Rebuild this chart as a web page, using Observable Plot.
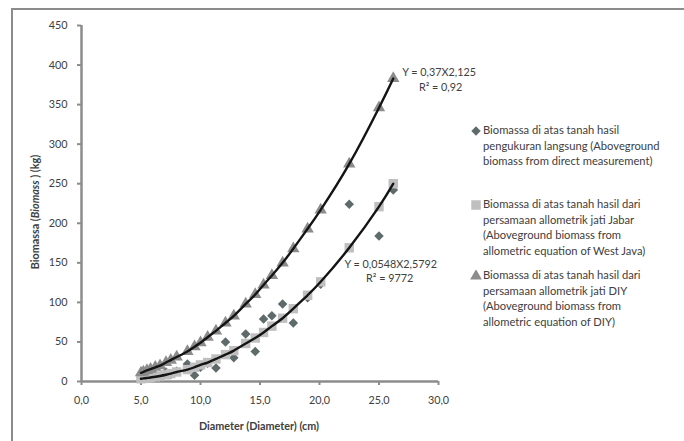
<!DOCTYPE html>
<html>
<head>
<meta charset="utf-8">
<script src="https://cdn.jsdelivr.net/npm/d3@7"></script>
<script src="https://cdn.jsdelivr.net/npm/@observablehq/plot@0.6"></script>
<style>
  html, body { margin: 0; padding: 0; background: #fff; }
  #wrap { position: relative; width: 684px; height: 441px; overflow: hidden; font-family: Lato, "Open Sans", sans-serif; }
  #border { position: absolute; left: 11px; top: 8px; right: -4px; bottom: -4px; border-left: 2px solid #8c8c8c; border-top: 2px solid #8c8c8c; }
  #legend { position: absolute; left: 470px; top: 0; font-size: 11.2px; line-height: 15.6px; color: #404040; }
  .item { position: absolute; left: 0; white-space: nowrap; }
  .item svg { position: absolute; left: 0; top: 3px; }
  .item div { position: absolute; left: 13px; top: 0; }
</style>
</head>
<body>
<div id="wrap">
  <div id="border"></div>
  <div id="chart"></div>
  <div id="legend"></div>
</div>
<script>
// ---- data ----
const diameters = [5.0, 5.2, 5.5, 5.8, 6.2, 6.6, 7.1, 7.5, 8.0, 8.9, 9.5, 10.0, 10.6, 11.3, 12.1, 12.8, 13.8, 14.6, 15.3, 16.0, 16.9, 17.8, 19.0, 20.1, 22.5, 25.0, 26.2];
const measured   = [5, 4, 8, 6, 9, 7, 12, 9, 13, 22, 8, 18, 23, 17, 50, 30, 60, 38, 79, 83, 98, 74, 106, 123, 224, 184, 242];
const jabar      = [3.5, 4, 4.5, 5, 6, 7, 8.5, 10, 12, 15, 18, 21, 24, 28.5, 34, 39, 48, 55, 62, 70, 80, 92, 109, 126, 169, 221, 250];
const diy        = [11, 12, 14, 15.5, 18, 20, 24, 27, 31, 38, 44, 49, 56, 64, 74, 83, 98, 110, 122, 134, 150, 168, 193, 217, 275, 346, 383];
const xTicks = [0, 5, 10, 15, 20, 25, 30];
const yTicks = [0, 50, 100, 150, 200, 250, 300, 350, 400, 450];
const legendLabels = [
  ["Biomassa di atas tanah hasil", "pengukuran langsung (Aboveground", "biomass from direct measurement)"],
  ["Biomassa di atas tanah hasil dari", "persamaan allometrik jati Jabar", "(Aboveground biomass from", "allometric equation of West Java)"],
  ["Biomassa di atas tanah hasil dari", "persamaan allometrik jati DIY", "(Aboveground biomass from", "allometric equation of DIY)"]
];
const eqTop = ["Y = 0,37X2,125", "R\u00b2 = 0,92"];
const eqBottom = ["Y = 0,0548X2,5792", "R\u00b2 = 9772"];
const xLabel = "Diameter (Diameter) (cm)";
const yLabelParts = ["Biomassa (", "Biomass", " ) (kg)"];

// ---- tables ----
const rowsMeasured = diameters.map((d, i) => ({d, v: measured[i]}));
const rowsJabar = diameters.map((d, i) => ({d, v: jabar[i]}));
const rowsDiy = diameters.map((d, i) => ({d, v: diy[i]}));

const colMeasured = "#5f6b6b", colJabar = "#bfbfbf", colDiy = "#8c8c8c", axisCol = "#8c8c8c", txt = "#404040";
const comma = d => d.toFixed(1).replace(".", ",");

const chart = Plot.plot({
  width: 684, height: 441,
  marginLeft: 81, marginRight: 246, marginTop: 25, marginBottom: 60,
  style: {fontFamily: "Lato, 'Open Sans', sans-serif", fontSize: "10.8px", color: txt, background: "transparent", overflow: "visible"},
  x: {domain: [0, 30]},
  y: {domain: [0, 450]},
  marks: [
    Plot.axisX({ticks: xTicks, tickFormat: comma, tickSize: 4, tickPadding: 11, stroke: axisCol, strokeWidth: 2, fill: txt, label: null}),
    Plot.axisY({ticks: yTicks, tickSize: 4, tickPadding: 10, stroke: axisCol, strokeWidth: 2, fill: txt, label: null}),
    Plot.ruleY([0], {stroke: axisCol, strokeWidth: 2.5}),
    Plot.ruleX([0], {stroke: axisCol, strokeWidth: 2.5}),
    Plot.dot(rowsMeasured, {x: "d", y: "v", symbol: "diamond2", r: 4.3, fill: colMeasured}),
    Plot.dot(rowsJabar, {x: "d", y: "v", symbol: "square", r: 5.3, fill: colJabar}),
    Plot.dot(rowsDiy, {x: "d", y: "v", symbol: "triangle", r: 4.6, fill: colDiy}),
    Plot.line(rowsDiy, {x: "d", y: "v", curve: "natural", stroke: "#141414", strokeWidth: 2.4}),
    Plot.line(rowsJabar, {x: "d", y: "v", curve: "natural", stroke: "#141414", strokeWidth: 2.4}),
    Plot.text([eqTop[0]], {x: 26.95, y: 391, text: d => d, textAnchor: "start", fill: txt}),
    Plot.text([eqTop[1]], {x: 32.0, y: 372, text: d => d, textAnchor: "end", fill: txt}),
    Plot.text([eqBottom[0]], {x: 22.1, y: 148, text: d => d, textAnchor: "start", fill: txt}),
    Plot.text([eqBottom[1]], {x: 25.9, y: 130, text: d => d, textAnchor: "middle", fill: txt})
  ]
});
document.getElementById("chart").appendChild(chart);

// axis titles
const svg = d3.select(chart);
svg.append("text")
  .attr("x", 259).attr("y", 430)
  .attr("text-anchor", "middle")
  .attr("font-weight", "bold").attr("font-size", "10.8px").attr("fill", txt)
  .text(xLabel);
const yl = svg.append("text")
  .attr("transform", "translate(39,212) rotate(-90)")
  .attr("text-anchor", "middle")
  .attr("font-weight", "bold").attr("font-size", "10.8px").attr("fill", txt);
yl.append("tspan").text(yLabelParts[0]);
yl.append("tspan").attr("font-style", "italic").text(yLabelParts[1]);
yl.append("tspan").text(yLabelParts[2]);

// legend
const tops = [122, 196, 267];
const syms = [d3.symbolDiamond2, d3.symbolSquare, d3.symbolTriangle];
const sizes = [56, 90, 60];
const cols = [colMeasured, colJabar, colDiy];
const legend = d3.select("#legend");
legendLabels.forEach((lines, i) => {
  const it = legend.append("div").attr("class", "item").style("top", tops[i] + "px");
  const s = it.append("svg").attr("width", 12).attr("height", 12);
  s.append("path").attr("transform", "translate(6,6)").attr("d", d3.symbol(syms[i], sizes[i])()).attr("fill", cols[i]);
  it.append("div").html(lines.join("<br>"));
});
</script>
</body>
</html>
